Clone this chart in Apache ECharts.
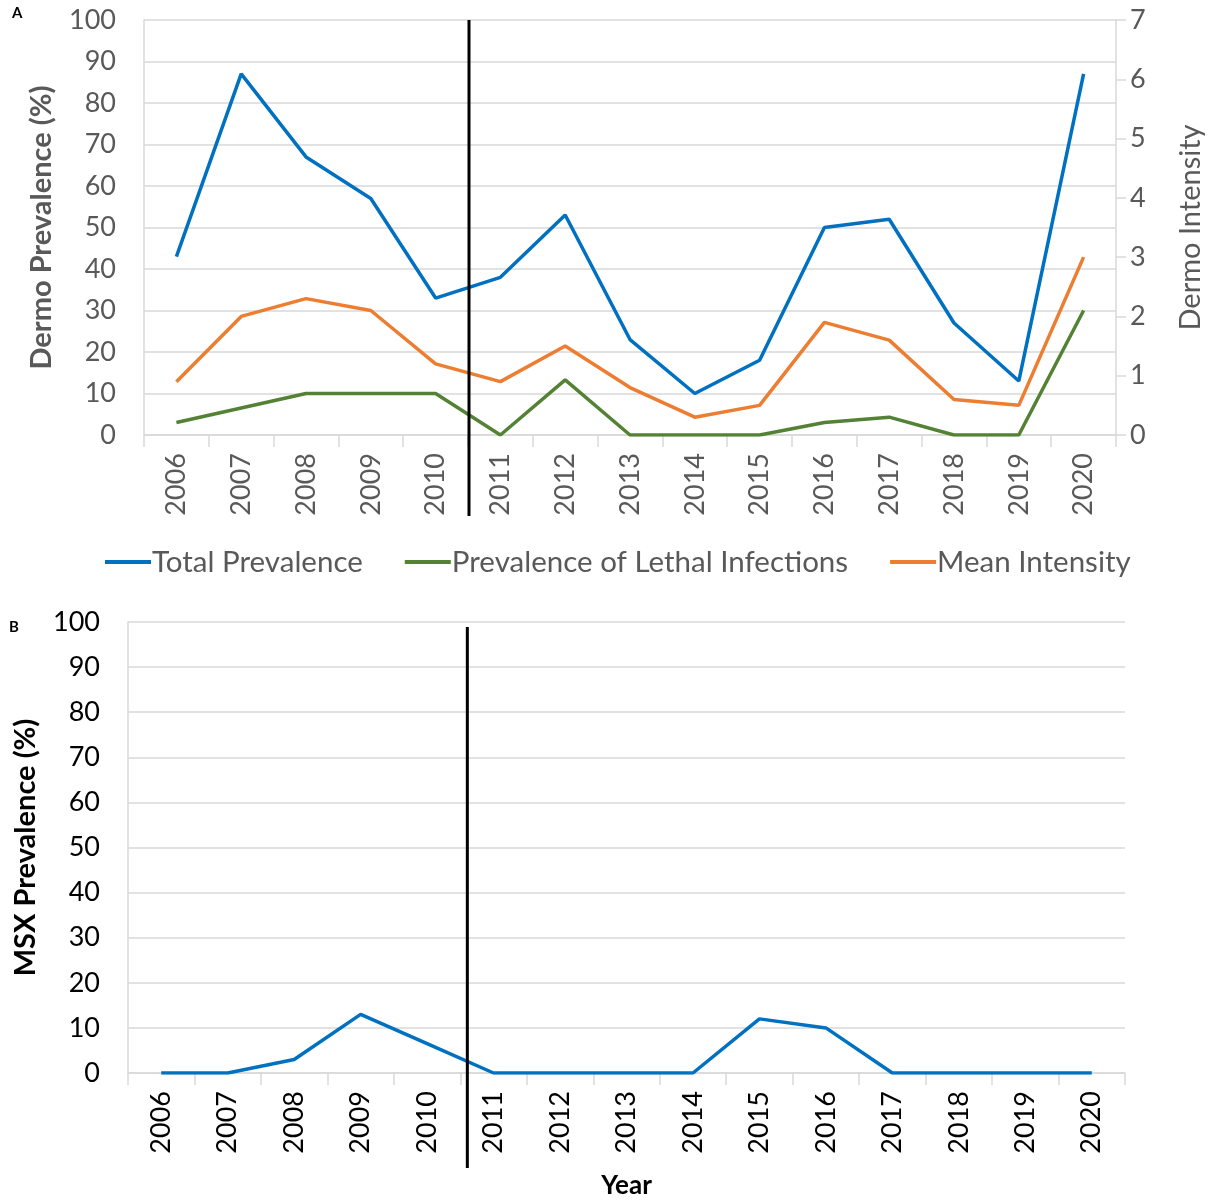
<!DOCTYPE html>
<html><head><meta charset="utf-8">
<script src="https://cdn.jsdelivr.net/npm/echarts@6/dist/echarts.min.js"></script>
<style>html,body{margin:0;padding:0;background:#fff}#c{width:1213px;height:1200px}</style>
</head><body><div id="c"></div>
<script>
const years = ['2006','2007','2008','2009','2010','2011','2012','2013','2014','2015','2016','2017','2018','2019','2020'];
const totalPrevalence = [43, 87, 67, 57, 33, 38, 53, 23, 10, 18, 50, 52, 27, 13, 87];
const lethalPrevalence = [3, 6.5, 10, 10, 10, 0, 13.3, 0, 0, 0, 3, 4.3, 0, 0, 30];
const meanIntensity = [0.9, 2.0, 2.3, 2.1, 1.2, 0.9, 1.5, 0.8, 0.3, 0.5, 1.9, 1.6, 0.6, 0.5, 3.0];
const msxPrevalence = [0, 0, 3, 13, 6.5, 0, 0, 0, 0, 12, 10, 0, 0, 0, 0];
const leftTicks = {min: 0, max: 100, interval: 10};
const rightTicks = {min: 0, max: 7, interval: 1};

const FONT = 'Lato, "Liberation Sans", sans-serif';
const GRAY = '#595959';
const GRID = '#d9d9d9';
const chart = echarts.init(document.getElementById('c'));

function xAxisCfg(gridIndex, color, name) {
  return {
    type: 'category', gridIndex, data: years, boundaryGap: true,
    axisLine: {lineStyle: {color: GRID, width: 1.5}},
    axisTick: {show: true, length: 12, lineStyle: {color: GRID, width: 1.5}},
    axisLabel: {rotate: 90, color, fontFamily: FONT, fontSize: 27, margin: 18},
    name: name || '', nameLocation: 'middle', nameGap: 100,
    nameTextStyle: {color: '#000', fontFamily: FONT, fontSize: 26, fontWeight: 'bold'}
  };
}

chart.setOption({
  animation: false,
  textStyle: {fontFamily: FONT},
  grid: [
    {left: 144, right: 94, top: 20, height: 415},
    {left: 128, right: 88, top: 622, height: 453}
  ],
  legend: {
    left: 100, top: 542, itemWidth: 46, itemHeight: 4, itemGap: 42,
    icon: 'rect',
    textStyle: {color: GRAY, fontFamily: FONT, fontSize: 29.5, padding: [0, 0, 0, -4]},
    data: ['Total Prevalence', 'Prevalence of Lethal Infections', 'Mean Intensity']
  },
  xAxis: [xAxisCfg(0, GRAY), xAxisCfg(1, '#000', 'Year')],
  yAxis: [
    Object.assign({type: 'value', gridIndex: 0,
      name: 'Dermo Prevalence (%)', nameLocation: 'middle', nameGap: 88,
      nameTextStyle: {color: GRAY, fontFamily: FONT, fontSize: 29, fontWeight: 'bold'},
      axisLine: {show: true, lineStyle: {color: GRID, width: 1.5}},
      axisTick: {show: false},
      axisLabel: {color: GRAY, fontFamily: FONT, fontSize: 27, margin: 28},
      splitLine: {lineStyle: {color: GRID, width: 1.5}}}, leftTicks),
    Object.assign({type: 'value', gridIndex: 0, position: 'right',
      name: 'Dermo Intensity', nameLocation: 'middle', nameGap: 60, nameRotate: 90,
      nameTextStyle: {color: GRAY, fontFamily: FONT, fontSize: 29},
      axisLine: {show: true, lineStyle: {color: GRID, width: 1.5}},
      axisTick: {show: true, inside: false, length: 10, lineStyle: {color: GRID, width: 1.5}},
      axisLabel: {color: GRAY, fontFamily: FONT, fontSize: 27, margin: 14},
      splitLine: {show: false}}, rightTicks),
    Object.assign({type: 'value', gridIndex: 1,
      name: 'MSX Prevalence (%)', nameLocation: 'middle', nameGap: 88,
      nameTextStyle: {color: '#000', fontFamily: FONT, fontSize: 29, fontWeight: 'bold'},
      axisLine: {show: true, lineStyle: {color: GRID, width: 1.5}},
      axisTick: {show: false},
      axisLabel: {color: '#000', fontFamily: FONT, fontSize: 27, margin: 28},
      splitLine: {lineStyle: {color: GRID, width: 1.5}}}, leftTicks)
  ],
  series: [
    {name: 'Total Prevalence', type: 'line', xAxisIndex: 0, yAxisIndex: 0, data: totalPrevalence,
      showSymbol: false, color: '#0070c0', lineStyle: {width: 3.5}},
    {name: 'Prevalence of Lethal Infections', type: 'line', xAxisIndex: 0, yAxisIndex: 0, data: lethalPrevalence,
      showSymbol: false, color: '#548235', lineStyle: {width: 3.5}},
    {name: 'Mean Intensity', type: 'line', xAxisIndex: 0, yAxisIndex: 1, data: meanIntensity,
      showSymbol: false, color: '#ed7d31', lineStyle: {width: 3.5}},
    {name: 'MSX Prevalence', type: 'line', xAxisIndex: 1, yAxisIndex: 2, data: msxPrevalence,
      showSymbol: false, color: '#0070c0', lineStyle: {width: 3.5}}
  ]
});

// divider between 2010 and 2011, derived from the axis scale
const xa1 = chart.convertToPixel({xAxisIndex: 0}, '2010');
const xa2 = chart.convertToPixel({xAxisIndex: 0}, '2011');
const xb1 = chart.convertToPixel({xAxisIndex: 1}, '2010');
const xb2 = chart.convertToPixel({xAxisIndex: 1}, '2011');
const ya0 = chart.convertToPixel({yAxisIndex: 0}, 100);
const yb0 = chart.convertToPixel({yAxisIndex: 2}, 100);
const xa = (xa1 + xa2) / 2 + 1, xb = (xb1 + xb2) / 2 + 7;
chart.setOption({
  graphic: [
    {type: 'line', shape: {x1: xa, y1: ya0, x2: xa, y2: ya0 + 496}, style: {stroke: '#000', lineWidth: 3}, z: 10},
    {type: 'line', shape: {x1: xb, y1: yb0 + 5, x2: xb, y2: yb0 + 546}, style: {stroke: '#000', lineWidth: 3}, z: 10},
    {type: 'text', left: 12, top: 6, style: {text: 'A', font: 'bold 15px ' + FONT, fill: '#000'}},
    {type: 'text', left: 9, top: 620, style: {text: 'B', font: 'bold 15px ' + FONT, fill: '#000'}}
  ]
});
</script></body></html>
